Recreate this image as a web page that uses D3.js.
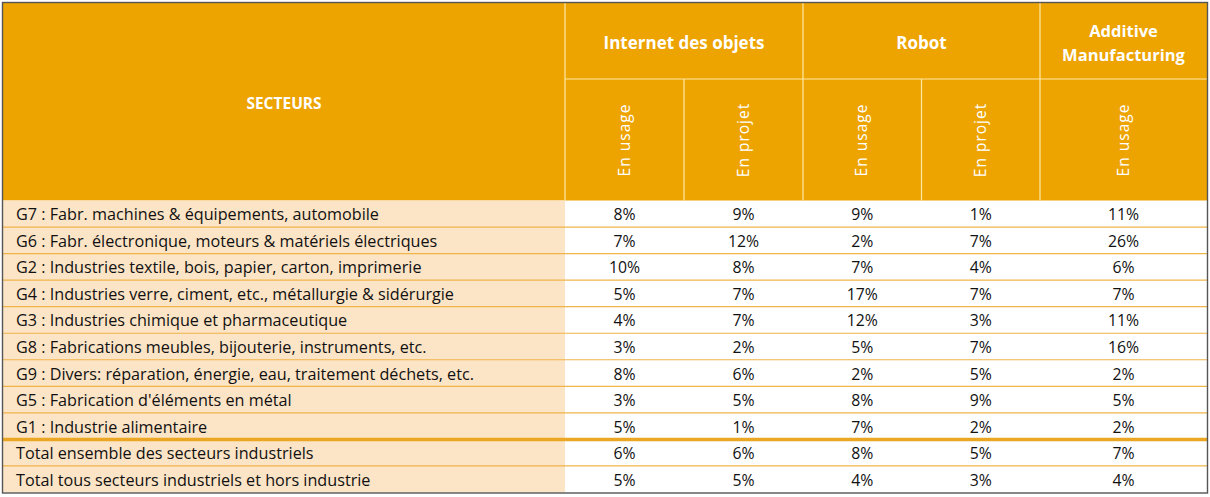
<!DOCTYPE html>
<html><head><meta charset="utf-8">
<script src="https://cdn.jsdelivr.net/npm/d3@7"></script>
<style>
html,body{margin:0;padding:0;background:#fff;}
svg{display:block;font-family:"Open Sans",Lato,sans-serif;}
</style></head>
<body>
<svg id="c" width="1210" height="497"></svg>
<script>
const sectors = [
  "G7 : Fabr. machines & équipements, automobile",
  "G6 : Fabr. électronique, moteurs & matériels électriques",
  "G2 : Industries textile, bois, papier, carton, imprimerie",
  "G4 : Industries verre, ciment, etc., métallurgie & sidérurgie",
  "G3 : Industries chimique et pharmaceutique",
  "G8 : Fabrications meubles, bijouterie, instruments, etc.",
  "G9 : Divers: réparation, énergie, eau, traitement déchets, etc.",
  "G5 : Fabrication d'éléments en métal",
  "G1 : Industrie alimentaire",
  "Total ensemble des secteurs industriels",
  "Total tous secteurs industriels et hors industrie"
];
const groups = ["Internet des objets", "Robot", "Additive Manufacturing"];
const subLabels = ["En usage", "En projet", "En usage", "En projet", "En usage"];
const iotUsage   = [8, 7, 10, 5, 4, 3, 8, 3, 5, 6, 5];
const iotProjet  = [9, 12, 8, 7, 7, 2, 6, 5, 1, 6, 5];
const robUsage   = [9, 2, 7, 17, 12, 5, 2, 8, 7, 8, 4];
const robProjet  = [1, 7, 4, 7, 3, 7, 5, 9, 2, 5, 3];
const amUsage    = [11, 26, 6, 7, 11, 16, 2, 5, 2, 7, 4];
const series = [iotUsage, iotProjet, robUsage, robProjet, amUsage];

const svg = d3.select("#c");
const X0 = 3, X1 = 1207, Y0 = 3, YH = 200.5, Y1 = 492.5, YSUB = 79;
const xLab = 565;
const colEdges = [565, 684, 803, 921.5, 1040, 1207];
const colX = d3.scaleOrdinal().domain(d3.range(5)).range(colEdges.slice(0,5));
const colW = i => colEdges[i+1] - colEdges[i];
const y = d3.scaleBand().domain(sectors).range([YH, Y1]);

const HEAD = "#EDA300", PEACH = "#FCE4C6", LINE = "#F0B54A", HLINE = "#FFE9A8";

svg.append("rect").attr("x", X0).attr("y", Y0).attr("width", X1-X0).attr("height", YH-Y0).attr("fill", HEAD);
svg.append("rect").attr("x", X0).attr("y", YH).attr("width", xLab-X0).attr("height", Y1-YH).attr("fill", PEACH);

const hl = svg.append("g").attr("stroke", HLINE).attr("stroke-width", 1.2);
hl.append("line").attr("x1", xLab).attr("x2", X1).attr("y1", YSUB).attr("y2", YSUB);
[565, 803, 1040].forEach(x => hl.append("line").attr("x1", x).attr("x2", x).attr("y1", Y0).attr("y2", YH));
[684, 921.5].forEach(x => hl.append("line").attr("x1", x).attr("x2", x).attr("y1", YSUB).attr("y2", YH));

const ht = svg.append("g").attr("fill", "#fff").attr("font-weight", "bold").attr("font-size", 17).attr("text-anchor", "middle");
ht.append("text").attr("x", 284).attr("y", 109).text("SECTEURS").attr("font-size", 15.5);
const gCenters = [(565+803)/2, (803+1040)/2, (1040+1207)/2];
ht.append("text").attr("x", gCenters[0]).attr("y", 49).text(groups[0]);
ht.append("text").attr("x", gCenters[1]).attr("y", 49).text(groups[1]);
const am = ht.append("text").attr("x", gCenters[2]).attr("y", 37).attr("font-size", 16.5);
am.append("tspan").attr("x", gCenters[2]).text("Additive");
am.append("tspan").attr("x", gCenters[2]).attr("dy", 24).text("Manufacturing");

subLabels.forEach((s, i) => {
  const cx = colX(i) + colW(i)/2 + 5;
  svg.append("text").attr("transform", `translate(${cx},140) rotate(-90)`)
    .attr("text-anchor", "middle").attr("fill", "#fff").attr("font-size", 15.5)
    .attr("letter-spacing", 1).text(s);
});

const rows = svg.append("g");
sectors.forEach((s, r) => {
  const yy = y(s), h = y.bandwidth();
  rows.append("text").attr("x", 16).attr("y", yy + h/2 + 6.5).attr("font-size", 16.2).attr("fill", "#111").text(s);
  series.forEach((arr, i) => {
    rows.append("text").attr("x", colX(i) + colW(i)/2).attr("y", yy + h/2 + 6.5)
      .attr("text-anchor", "middle").attr("font-size", 15.8).attr("fill", "#111").text(arr[r] + "%");
  });
  if (r > 0) {
    const thick = s.startsWith("Total ensemble");
    rows.append("line").attr("x1", X0).attr("x2", X1).attr("y1", yy).attr("y2", yy)
      .attr("stroke", thick ? "#EBA623" : LINE).attr("stroke-width", thick ? 3.5 : 1.2);
  }
});

svg.append("rect").attr("x", X0-0.5).attr("y", Y0-0.5).attr("width", X1-X0+1).attr("height", Y1-Y0+1)
  .attr("fill", "none").attr("stroke", "#555").attr("stroke-width", 1.4);
</script>
</body></html>
